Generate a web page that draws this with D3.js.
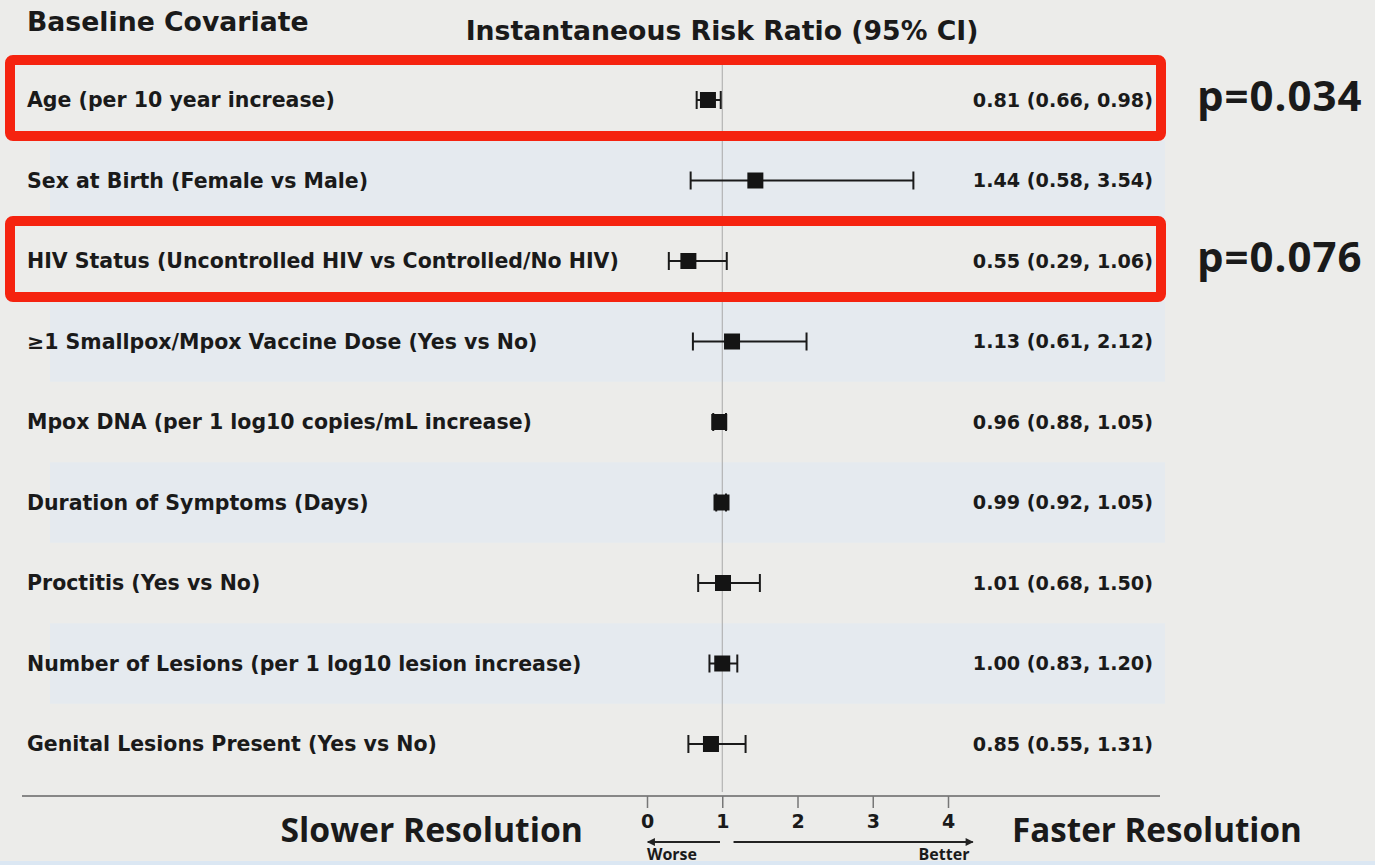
<!DOCTYPE html>
<html>
<head>
<meta charset="utf-8">
<script src="https://cdn.jsdelivr.net/npm/d3@7"></script>
<style>
  html, body { margin: 0; padding: 0; background: #ececea; }
  svg { display: block; }
  text { font-family: "DejaVu Sans", sans-serif; fill: #1a1a1a; }
  .big { font-family: "Open Sans", "DejaVu Sans", sans-serif; }
</style>
</head>
<body>
<svg id="chart" width="1375" height="865"></svg>
<script>
// Baseline covariates and their instantaneous risk ratios (95% CI)
const covariates = [
  "Age (per 10 year increase)",
  "Sex at Birth (Female vs Male)",
  "HIV Status (Uncontrolled HIV vs Controlled/No HIV)",
  "≥1 Smallpox/Mpox Vaccine Dose (Yes vs No)",
  "Mpox DNA (per 1 log10 copies/mL increase)",
  "Duration of Symptoms (Days)",
  "Proctitis (Yes vs No)",
  "Number of Lesions (per 1 log10 lesion increase)",
  "Genital Lesions Present (Yes vs No)"
];
const ratio = [0.81, 1.44, 0.55, 1.13, 0.96, 0.99, 1.01, 1.00, 0.85];
const lower = [0.66, 0.58, 0.29, 0.61, 0.88, 0.92, 0.68, 0.83, 0.55];
const upper = [0.98, 3.54, 1.06, 2.12, 1.05, 1.05, 1.50, 1.20, 1.31];

// Highlighted rows with their p-values
const highlighted = ["Age (per 10 year increase)", "HIV Status (Uncontrolled HIV vs Controlled/No HIV)"];
const pValues = ["p=0.034", "p=0.076"];

const axisTicks = [0, 1, 2, 3, 4];

const rows = covariates.map((c, i) => ({ name: c, est: ratio[i], lo: lower[i], hi: upper[i] }));
const fmt = d3.format(".2f");

const svg = d3.select("#chart");

const x = d3.scaleLinear().domain([0, 4]).range([647, 948]);
const y = d3.scalePoint().domain(covariates).range([100, 744]);
const step = y.step();

// subtle alternating row bands
svg.append("g").selectAll("rect")
  .data(rows.filter((d, i) => i % 2 === 1))
  .join("rect")
  .attr("x", 50).attr("width", 1115)
  .attr("y", d => y(d.name) - step / 2).attr("height", step)
  .attr("fill", "#e5eaef");

// bottom strip
svg.append("rect").attr("x", 0).attr("y", 861).attr("width", 1375).attr("height", 4).attr("fill", "#dbe7f3");

// column headers
svg.append("text").attr("x", 27).attr("y", 31)
  .attr("font-size", 26.7).attr("font-weight", 700).attr("fill", "#222").text("Baseline Covariate");
svg.append("text").attr("x", 722).attr("y", 40).attr("text-anchor", "middle")
  .attr("font-size", 26.7).attr("font-weight", 700).attr("fill", "#222").text("Instantaneous Risk Ratio (95% CI)");

// reference line at ratio 1
svg.append("line")
  .attr("x1", x(1)).attr("x2", x(1))
  .attr("y1", 58).attr("y2", 792)
  .attr("stroke", "#a8a8a8").attr("stroke-width", 1);

// covariate labels
svg.append("g").selectAll("text")
  .data(rows).join("text")
  .attr("x", 27).attr("y", d => y(d.name)).attr("dy", "0.36em")
  .attr("font-size", 20.5).attr("font-weight", 700)
  .text(d => d.name);

// estimate (CI) labels
svg.append("g").selectAll("text")
  .data(rows).join("text")
  .attr("x", 1153).attr("y", d => y(d.name)).attr("dy", "0.36em")
  .attr("text-anchor", "end")
  .attr("font-size", 19.2).attr("font-weight", 700)
  .text(d => `${fmt(d.est)} (${fmt(d.lo)}, ${fmt(d.hi)})`);

// confidence intervals
const ci = svg.append("g").attr("stroke", "#1a1a1a").attr("stroke-width", 2);
ci.selectAll("line.ci").data(rows).join("line").attr("class", "ci")
  .attr("x1", d => x(d.lo)).attr("x2", d => x(d.hi))
  .attr("y1", d => y(d.name)).attr("y2", d => y(d.name));
ci.selectAll("line.lo").data(rows).join("line").attr("class", "lo")
  .attr("x1", d => x(d.lo)).attr("x2", d => x(d.lo))
  .attr("y1", d => y(d.name) - 9).attr("y2", d => y(d.name) + 9);
ci.selectAll("line.hi").data(rows).join("line").attr("class", "hi")
  .attr("x1", d => x(d.hi)).attr("x2", d => x(d.hi))
  .attr("y1", d => y(d.name) - 9).attr("y2", d => y(d.name) + 9);

// point estimates
svg.append("g").selectAll("rect").data(rows).join("rect")
  .attr("x", d => x(d.est) - 8).attr("y", d => y(d.name) - 8)
  .attr("width", 16).attr("height", 16)
  .attr("fill", "#141414");

// highlight boxes and p-values
highlighted.forEach((name, i) => {
  svg.append("rect")
    .attr("x", 10).attr("y", y(name) - 40)
    .attr("width", 1151).attr("height", 76)
    .attr("rx", 3)
    .attr("fill", "none").attr("stroke", "#f5230f").attr("stroke-width", 10);
  svg.append("text").attr("class", "big")
    .attr("x", 1197).attr("y", y(name) - 4).attr("dy", "0.35em")
    .attr("font-size", 42).attr("font-weight", 700).attr("letter-spacing", 1)
    .text(pValues[i]);
});

// axis line spanning the table
svg.append("line").attr("x1", 22).attr("x2", 1160).attr("y1", 796).attr("y2", 796)
  .attr("stroke", "#666").attr("stroke-width", 1.5);

const axis = d3.axisBottom(x).tickValues(axisTicks).tickSize(12).tickPadding(7).tickFormat(d3.format("d"));
const gAxis = svg.append("g").attr("transform", "translate(0,796)").call(axis);
gAxis.select(".domain").remove();
gAxis.selectAll(".tick line").attr("stroke", "#777").attr("stroke-width", 1.5);
gAxis.selectAll(".tick text").attr("font-size", 19).attr("font-weight", 700)
  .attr("font-family", "\"Open Sans\", sans-serif").attr("fill", "#1a1a1a");

// worse / better arrows
const defs = svg.append("defs");
defs.append("marker").attr("id", "arrow").attr("viewBox", "0 0 10 10")
  .attr("refX", 9).attr("refY", 5).attr("markerWidth", 5).attr("markerHeight", 4)
  .attr("orient", "auto-start-reverse")
  .append("path").attr("d", "M0,0 L10,5 L0,10 Z").attr("fill", "#222");

svg.append("line").attr("x1", x(0.97)).attr("x2", x(0.01)).attr("y1", 842).attr("y2", 842)
  .attr("stroke", "#222").attr("stroke-width", 2).attr("marker-end", "url(#arrow)");
svg.append("line").attr("x1", x(1.15)).attr("x2", x(4.33)).attr("y1", 842).attr("y2", 842)
  .attr("stroke", "#222").attr("stroke-width", 2).attr("marker-end", "url(#arrow)");

svg.append("text").attr("class", "big").attr("x", 672).attr("y", 860).attr("text-anchor", "middle")
  .attr("font-size", 16).attr("font-weight", 700).text("Worse");
svg.append("text").attr("class", "big").attr("x", 944).attr("y", 860).attr("text-anchor", "middle")
  .attr("font-size", 16).attr("font-weight", 700).text("Better");

// direction labels
svg.append("text").attr("class", "big").attr("x", 583).attr("y", 842).attr("text-anchor", "end")
  .attr("font-size", 33.7).attr("font-weight", 700).text("Slower Resolution");
svg.append("text").attr("class", "big").attr("x", 1012).attr("y", 842)
  .attr("font-size", 33.2).attr("font-weight", 700).text("Faster Resolution");
</script>
</body>
</html>
